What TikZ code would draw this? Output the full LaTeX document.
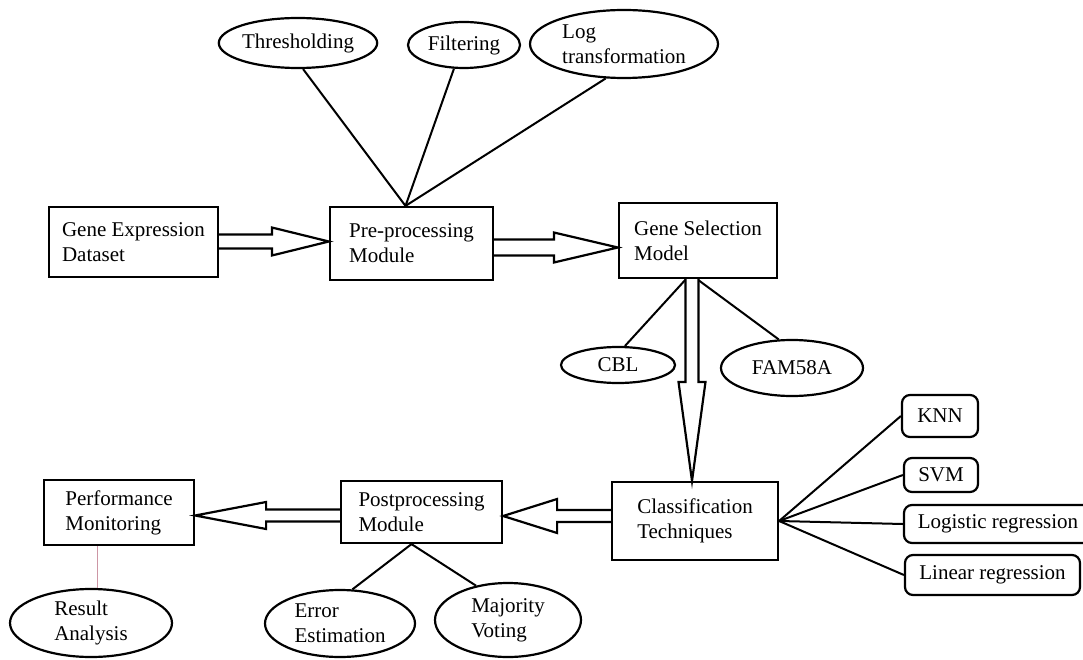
\documentclass[tikz,border=0pt]{standalone}
\usepackage{fontspec}
\setmainfont{Liberation Serif}
\usetikzlibrary{shapes.geometric,calc}
\begin{document}
\begin{tikzpicture}[x=1pt,y=-1pt,
  every node/.style={font=\fontsize{21}{25}\selectfont, text=black},
  box/.style={draw, line width=2.2pt, rectangle, align=left, inner sep=0pt},
  oval/.style={draw, line width=2.2pt, ellipse, align=left, inner sep=0pt},
  rbox/.style={draw, line width=2.2pt, rectangle, rounded corners=8pt, inner sep=0pt},
  link/.style={line width=2pt},
  pinkline/.style={line width=0.9pt, draw={rgb,255:red,205;green,150;blue,165}},
  hollow/.style={draw, line width=2.2pt, fill=white, line join=miter},
]
\fill[white] (0,0) rectangle (1083,660);
\useasboundingbox (0,0) rectangle (1083,660);

% main boxes
\node[box, minimum width=169pt, minimum height=70pt] (ge) at (133.5,242) {Gene Expression\\Dataset};
\node[box, minimum width=163pt, minimum height=73pt] (pp) at (411.5,243.5) {Pre-processing\\Module};
\node[box, minimum width=158pt, minimum height=75pt] (gs) at (698,240.5) {Gene Selection\\Model};
\node[box, minimum width=166pt, minimum height=78pt] (ct) at (695,521) {Classification\\Techniques};
\node[box, minimum width=161pt, minimum height=62pt] (pm) at (421.5,512) {Postprocessing\\Module};
\node[box, minimum width=150pt, minimum height=65pt] (pf) at (119,512.5) {Performance\\Monitoring};

% ellipses
\node[oval, minimum width=146pt, minimum height=50pt] (th) at (298,43) {Thresholding};
\node[oval, minimum width=112pt, minimum height=46pt] (fi) at (464,45) {Filtering};
\node[oval, minimum width=188pt, minimum height=68pt] (lt) at (624,44) {Log\\transformation};
\node[oval, minimum width=114pt, minimum height=36pt] (cbl) at (618,365) {CBL};
\node[oval, minimum width=142pt, minimum height=56pt] (fam) at (792,368) {FAM58A};
\node[oval, minimum width=162pt, minimum height=68pt] (ra) at (91,623) {Result\\Analysis};
\node[oval, minimum width=150pt, minimum height=67pt] (ee) at (340,623.5) {Error\\Estimation};
\node[oval, minimum width=146pt, minimum height=74pt] (mv) at (508,620) {Majority\\Voting};

% rounded boxes
\node[rbox, minimum width=76pt, minimum height=42pt] (knn) at (940,416) {KNN};
\node[rbox, minimum width=74pt, minimum height=34pt] (svm) at (941,475) {SVM};
\node[rbox, minimum width=188pt, minimum height=38pt] (lr) at (998,524) {Logistic regression};
\node[rbox, minimum width=175pt, minimum height=40pt] (lin) at (992.5,575) {Linear regression};

% fan links
\coordinate (hub1) at ($(pp.north)+(-6,0)$);
\draw[link] (hub1) -- (th.-79);
\draw[link] (hub1) -- (fi.-113);
\draw[link] (hub1) -- (lt.-118);

\draw[link] ($(gs.south)+(-12,0)$) -- (cbl.70);
\draw[link] ($(gs.south)+(-1,0)$) -- (fam.115);

\draw[link] (ct.east) -- (knn.west);
\draw[link] (ct.east) -- (svm.west);
\draw[link] (ct.east) -- (lr.west);
\draw[link] (ct.east) -- (lin.west);

\coordinate (hub2) at ($(pm.south)+(-10,0)$);
\draw[link] (hub2) -- (ee.70);
\draw[link] (hub2) -- (mv.133);

\coordinate (pfs) at ($(pf.south)+(-22,0)$);
\draw[pinkline] (pfs) -- (pfs |- ra.north);

% hollow arrows
\coordinate (a1t) at ($(pp.west)+(0,-2)$);
\draw[hollow] ($(ge.east |- a1t)+(0,-7)$) -- ($(a1t)+(-57,-7)$) -- ($(a1t)+(-57,-14)$) -- (a1t)
  -- ($(a1t)+(-57,14)$) -- ($(a1t)+(-57,7)$) -- ($(ge.east |- a1t)+(0,7)$);

\coordinate (a2t) at ($(gs.west)+(0,7)$);
\draw[hollow] ($(pp.east |- a2t)+(0,-8)$) -- ($(a2t)+(-64,-8)$) -- ($(a2t)+(-64,-15)$) -- (a2t)
  -- ($(a2t)+(-64,15)$) -- ($(a2t)+(-64,8)$) -- ($(pp.east |- a2t)+(0,8)$);

\coordinate (a3s) at ($(gs.south)+(-6,0)$);
\coordinate (a3t) at (a3s |- ct.north);
\draw[hollow] ($(a3s)+(-6.5,0)$) -- ($(a3t)+(-6.5,-99)$) -- ($(a3t)+(-13.5,-99)$) -- (a3t)
  -- ($(a3t)+(13.5,-99)$) -- ($(a3t)+(6.5,-99)$) -- ($(a3s)+(6.5,0)$);

\coordinate (a4t) at ($(pm.east)+(0,4)$);
\draw[hollow] ($(ct.west |- a4t)+(0,-6)$) -- ($(a4t)+(54,-6)$) -- ($(a4t)+(54,-17)$) -- (a4t)
  -- ($(a4t)+(54,17)$) -- ($(a4t)+(54,6)$) -- ($(ct.west |- a4t)+(0,6)$);

\coordinate (a5t) at ($(pf.east)+(0,3)$);
\draw[hollow] ($(pm.west |- a5t)+(0,-6)$) -- ($(a5t)+(71,-6)$) -- ($(a5t)+(71,-13.5)$) -- (a5t)
  -- ($(a5t)+(71,13.5)$) -- ($(a5t)+(71,6)$) -- ($(pm.west |- a5t)+(0,6)$);
\end{tikzpicture}
\end{document}
